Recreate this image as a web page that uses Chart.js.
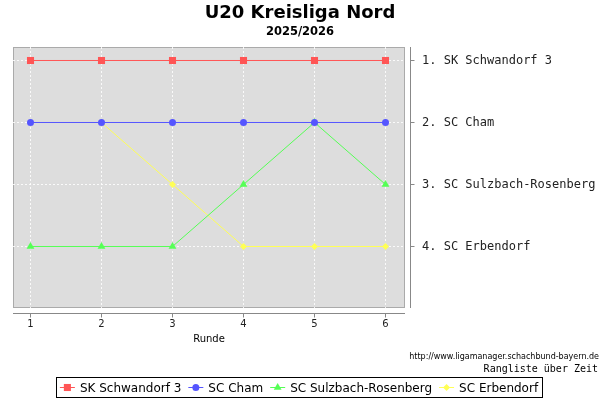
<!DOCTYPE html>
<html>
<head>
<meta charset="utf-8">
<script src="https://cdn.jsdelivr.net/npm/chart.js@4"></script>
<style>
html, body { margin: 0; padding: 0; background: #fff; }
</style>
</head>
<body>
<canvas id="myChart" width="600" height="400"></canvas>
<script>
// data
let rounds = [1, 2, 3, 4, 5, 6];
let teams = ['SK Schwandorf 3', 'SC Cham', 'SC Sulzbach-Rosenberg', 'SC Erbendorf'];
let ranks = [1, 2, 3, 4];
let rankLabels = ['1. SK Schwandorf 3', '2. SC Cham', '3. SC Sulzbach-Rosenberg', '4. SC Erbendorf'];
let schwandorf = [1, 1, 1, 1, 1, 1];
let cham = [2, 2, 2, 2, 2, 2];
let sulzbach = [4, 4, 4, 3, 2, 3];
let erbendorf = [2, 2, 3, 4, 4, 4];

let titleText = 'U20 Kreisliga Nord';
let subtitleText = '2025/2026';
let xTitle = 'Runde';
let sourceText = 'http://www.ligamanager.schachbund-bayern.de';
let captionText = 'Rangliste über Zeit';

let colors = ['#ff5555', '#5555ff', '#55ff55', '#ffff55'];
let markers = ['rect', 'circle', 'triangle', 'rectRot'];
let radii = [5, 3.5, 4.5, 3.5];
let series = [schwandorf, cham, sulzbach, erbendorf];

let datasets = [];
for (let i = 0; i < teams.length; i++) {
	datasets.push({
		label: teams[i],
		data: rounds.map(function (r, j) { return { x: r, y: series[i][j] }; }),
		borderColor: colors[i],
		backgroundColor: colors[i],
		borderWidth: 1,
		pointStyle: markers[i],
		pointRadius: radii[i],
		pointBorderWidth: 0,
		pointHoverRadius: radii[i],
		tension: 0
	});
}

function drawLegend(ctx) {
	ctx.save();
	ctx.font = '12px "DejaVu Sans"';
	let lineLen = 15, gapText = 5, gapItem = 7;
	let total = 0;
	let widths = teams.map(function (t) { return ctx.measureText(t).width; });
	for (let i = 0; i < teams.length; i++) total += lineLen + gapText + widths[i];
	total += gapItem * (teams.length - 1);
	let x = 299 - total / 2, y = 387.5;
	ctx.strokeStyle = '#000';
	ctx.lineWidth = 1;
	ctx.strokeRect(Math.round(x - 4) + 0.5, 377.5, Math.round(total + 8), 20);
	ctx.textBaseline = 'middle';
	for (let i = 0; i < teams.length; i++) {
		ctx.strokeStyle = colors[i];
		ctx.beginPath();
		ctx.moveTo(x, y);
		ctx.lineTo(x + lineLen, y);
		ctx.stroke();
		ctx.fillStyle = colors[i];
		Chart.helpers.drawPoint(ctx, { pointStyle: markers[i], radius: radii[i], borderWidth: 0 }, x + lineLen / 2, y);
		ctx.fillStyle = '#000';
		ctx.fillText(teams[i], x + lineLen + gapText, y + 1);
		x += lineLen + gapText + widths[i] + gapItem;
	}
	ctx.restore();
}

let decor = {
	id: 'decor',
	beforeDraw: function (chart) {
		let ctx = chart.ctx, a = chart.chartArea;
		ctx.save();
		ctx.fillStyle = '#fff';
		ctx.fillRect(0, 0, chart.width, chart.height);
		ctx.fillStyle = '#dddddd';
		ctx.fillRect(a.left, a.top, a.right - a.left, a.bottom - a.top);
		ctx.strokeStyle = '#aaaaaa';
		ctx.lineWidth = 1;
		ctx.strokeRect(a.left + 0.5, a.top + 0.5, a.right - a.left - 1, a.bottom - a.top - 1);
		ctx.restore();
	},
	afterDraw: function (chart) {
		let ctx = chart.ctx, a = chart.chartArea;
		let xs = chart.scales.x, ys = chart.scales.y;
		ctx.save();
		ctx.strokeStyle = '#888888';
		ctx.lineWidth = 1;
		// x axis, a bit below the plot
		let ay = a.bottom + 5.5;
		ctx.beginPath();
		ctx.moveTo(a.left, ay);
		ctx.lineTo(a.right, ay);
		rounds.forEach(function (r) {
			let px = Math.floor(xs.getPixelForValue(r)) + 0.5;
			ctx.moveTo(px, ay);
			ctx.lineTo(px, ay + 4);
		});
		// y axis on the right
		let ax = a.right + 5.5;
		ctx.moveTo(ax, a.top);
		ctx.lineTo(ax, a.bottom);
		ranks.forEach(function (r) {
			let py = Math.floor(ys.getPixelForValue(r)) + 0.5;
			ctx.moveTo(ax, py);
			ctx.lineTo(ax + 4, py);
		});
		ctx.stroke();

		ctx.fillStyle = '#000';
		ctx.textAlign = 'center';
		ctx.textBaseline = 'alphabetic';
		ctx.font = 'bold 18px "DejaVu Sans"';
		ctx.fillText(titleText, 300, 18);
		ctx.font = 'bold 11.5px "DejaVu Sans"';
		ctx.fillText(subtitleText, 300, 35);
		ctx.font = '10px "DejaVu Sans"';
		ctx.fillText(xTitle, (a.left + a.right) / 2, 342);

		ctx.textAlign = 'right';
		ctx.font = '8px "DejaVu Sans"';
		ctx.fillText(sourceText, 599, 359);
		ctx.font = '10px "DejaVu Sans Mono"';
		ctx.fillText(captionText, 598, 372);
		ctx.restore();
		drawLegend(ctx);
	}
};

let ctx = document.getElementById('myChart').getContext('2d');
let chart = new Chart(ctx, {
	type: 'line',
	data: { datasets: datasets },
	plugins: [decor],
	options: {
		responsive: false,
		animation: false,
		devicePixelRatio: 1,
		layout: { padding: { top: 47, left: 13, right: 0, bottom: 0 } },
		plugins: {
			legend: { display: false },
			title: { display: false },
			tooltip: { enabled: false }
		},
		scales: {
			x: {
				type: 'linear',
				min: 0.7535,
				max: 6.2746,
				afterBuildTicks: function (s) { s.ticks = rounds.map(function (v) { return { value: v }; }); },
				afterFit: function (s) { s.height = 92; },
				grid: { color: 'rgba(255,255,255,0.85)', drawTicks: false, lineWidth: 1 },
				border: { display: false, dash: [2, 2] },
				ticks: { font: { family: 'DejaVu Sans', size: 10 }, color: '#222', padding: 10, maxRotation: 0 }
			},
			y: {
				type: 'linear',
				position: 'right',
				reverse: true,
				min: 0.7823,
				max: 4.992,
				afterBuildTicks: function (s) { s.ticks = ranks.map(function (v) { return { value: v }; }); },
				afterFit: function (s) { s.width = 195; },
				grid: { color: 'rgba(255,255,255,0.85)', drawTicks: false, lineWidth: 1 },
				border: { display: false, dash: [2, 2] },
				ticks: {
					font: { family: 'DejaVu Sans Mono', size: 12 },
					color: '#222',
					padding: 17,
					callback: function (v) { return rankLabels[ranks.indexOf(v)]; }
				}
			}
		}
	}
});
</script>
</body>
</html>
